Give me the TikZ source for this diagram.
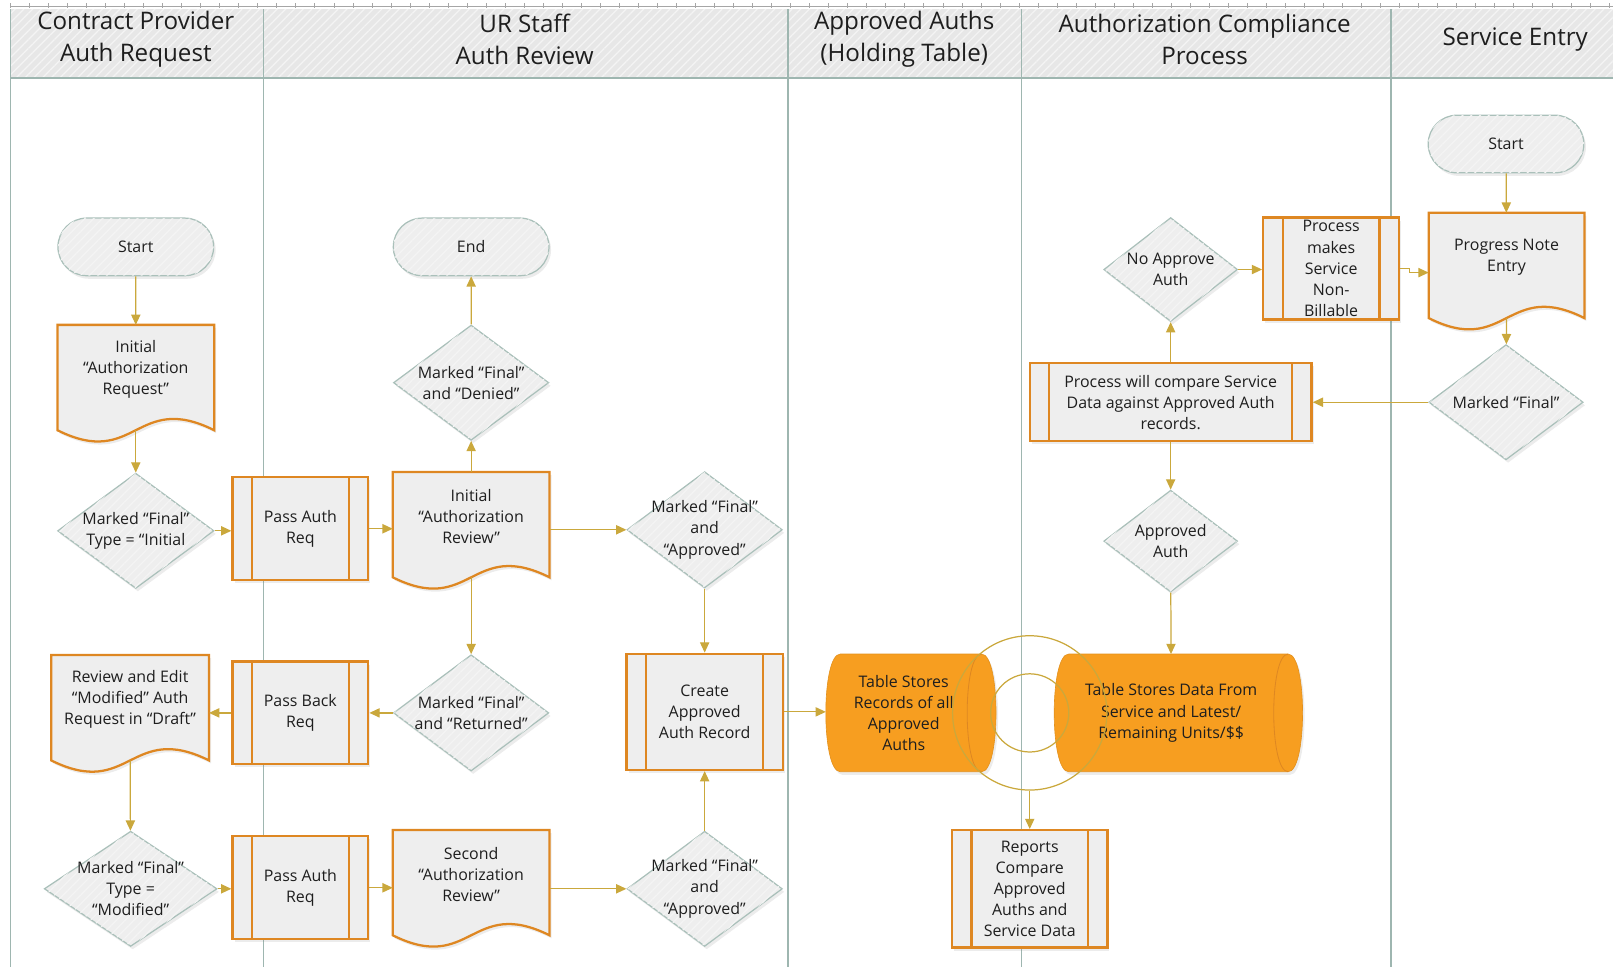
\documentclass[tikz,border=0pt]{standalone}
\usepackage{fontspec}
\setmainfont{Open Sans}
\usepackage{tikz}
\usetikzlibrary{calc,arrows.meta,shapes.geometric,shapes.misc,patterns.meta,shadows}

\definecolor{lanegreen}{RGB}{158,182,176}
\definecolor{headgray}{RGB}{231,231,231}
\definecolor{boxgray}{RGB}{238,238,238}
\definecolor{stripe}{RGB}{244,244,244}
\definecolor{diamedge}{RGB}{170,192,186}
\definecolor{procorange}{RGB}{222,135,34}
\definecolor{tankorange}{RGB}{247,158,32}
\definecolor{flowgold}{RGB}{202,168,60}
\definecolor{inkgray}{RGB}{30,30,30}

\pgfdeclarelayer{lanes}
\pgfdeclarelayer{shapes}
\pgfsetlayers{lanes,shapes,main}

\newcommand{\bodyfont}{\fontsize{15.5}{20.5}\selectfont}
\newcommand{\headfont}{\fontsize{23.5}{31}\selectfont}

% document outline with wavy bottom, drawn under the text node
\newcommand{\docshape}[1]{%
  \filldraw[docline] (#1.north west) -- (#1.north east) -- ([yshift=-16pt]#1.south east)
    .. controls ([yshift=22pt]#1.south) and ([yshift=-54pt]#1.south) .. ([yshift=-16pt]#1.south west) -- cycle;}
% lying orange tank
\newcommand{\tankshape}[1]{%
  \filldraw[tankline] ([xshift=14pt]#1.north west) -- (#1.north east)
    .. controls +(18.7,0) and +(18.7,0) .. (#1.south east) -- ([xshift=14pt]#1.south west)
    .. controls +(-18.7,0) and +(-18.7,0) .. cycle;
  \draw[tankedge] (#1.north east) .. controls +(-18.7,0) and +(-18.7,0) .. (#1.south east);}

\tikzset{>={Triangle[length=10pt,width=9pt]}}
\tikzset{
  soft/.style={drop shadow={opacity=0.15,shadow xshift=2pt,shadow yshift=-3pt}},
  striped/.style={fill=boxgray,postaction={pattern={Lines[angle=45,distance=6pt,line width=1.2pt]},pattern color=stripe}},
  lane/.style={draw=lanegreen,line width=1.4pt},
  ruler/.style={draw=black!35,line width=0.6pt},
  headtext/.style={font=\headfont,text=inkgray,align=center,inner sep=0pt},
  term/.style={rounded rectangle,draw=diamedge,line width=1.2pt,striped,soft,minimum width=158pt,minimum height=56pt,font=\bodyfont,text=inkgray},
  dec/.style={diamond,draw=diamedge,line width=1.2pt,striped,soft,inner sep=0pt},
  dtext/.style={font=\bodyfont,text=inkgray,align=center,inner sep=0pt},
  doc/.style={rectangle,minimum width=152pt,minimum height=86pt,inner sep=0pt,font=\bodyfont,text=inkgray,align=center},
  docline/.style={draw=procorange,line width=2.2pt,fill=boxgray,soft},
  proc/.style={rectangle,draw=procorange,line width=2.2pt,fill=boxgray,soft,inner sep=0pt,font=\bodyfont,text=inkgray,align=center,
    path picture={
      \draw[procorange,line width=2.2pt] ([xshift=19pt]path picture bounding box.north west) -- ([xshift=19pt]path picture bounding box.south west);
      \draw[procorange,line width=2.2pt] ([xshift=-19pt]path picture bounding box.north east) -- ([xshift=-19pt]path picture bounding box.south east);}},
  tank/.style={rectangle,minimum height=114pt,inner sep=0pt,font=\bodyfont,text=inkgray,align=center},
  tankline/.style={fill=tankorange,draw=tankorange!92!black,line width=0.6pt,soft},
  tankedge/.style={draw=procorange,line width=0.8pt},
  ring/.style={circle,draw=flowgold,line width=1.2pt,inner sep=0pt},
  flow/.style={->,draw=flowgold,line width=1.2pt}
}

\begin{document}
\begin{tikzpicture}[x=1pt,y=-1pt]
  \useasboundingbox (0,0) rectangle (1568,940);

  \begin{pgfonlayer}{lanes}
    % ruler on top
    \draw[ruler] (10,6) -- (1568,6);
    \foreach \t in {0,...,84} \draw[ruler] (10+18.5*\t,3) -- (10+18.5*\t,8);
    % header band
    \fill[headgray,postaction={pattern={Lines[angle=45,distance=6pt,line width=1.2pt]},pattern color=stripe}] (10,9) rectangle (1568,76);
    \node[headtext] (hdprov) at (132,38) {Contract Provider\\Auth Request};
    \node[headtext] (hdur) at (510,38) {UR Staff\\Auth Review};
    \node[headtext] (hdhold) at (879,38) {Approved Auths\\(Holding Table)};
    \node[headtext] (hdcomp) at (1171,38) {Authorization Compliance\\Process};
    \node[headtext] (hdserv) at (1473,38) {Service Entry};
    % lane borders
    \foreach \x in {10,256,766,993,1352}
      \draw[lane] (\x,9) -- (\x,940);
    \draw[lane] (10,76) -- (1568,76);
  \end{pgfonlayer}

  % contract provider lane
  \node[term] (start1) at (132,240) {Start};
  \node[doc] (req) at (132,359) {Initial\\“Authorization\\Request”};
  \node[dec,minimum width=152pt,minimum height=112pt,label={[dtext,name=d1-t]center:{Marked “Final”\\Type = “Initial}}] (d1) at (132,516) {};
  \node[doc,minimum width=153pt] (review) at (126.5,680) {Review and Edit\\“Modified” Auth\\Request in “Draft”};
  \node[dec,minimum width=168pt,minimum height=112pt,label={[dtext,name=dmod-t]center:{Marked “Final”\\Type =\\“Modified”}}] (dmod) at (127,864) {};

  % UR staff lane
  \node[proc,minimum width=132pt,minimum height=100pt] (pass1) at (292,514) {Pass Auth\\Req};
  \node[proc,minimum width=132pt,minimum height=100pt] (passback) at (292,693) {Pass Back\\Req};
  \node[proc,minimum width=132pt,minimum height=100pt] (pass2) at (292,863) {Pass Auth\\Req};
  \node[term] (endn) at (458,240) {End};
  \node[dec,minimum width=151pt,minimum height=112pt,label={[dtext,name=dden-t]center:{Marked “Final”\\and “Denied”}}] (dden) at (458,372) {};
  \node[doc] (iar) at (458,502) {Initial\\“Authorization\\Review”};
  \node[dec,minimum width=151pt,minimum height=113pt,label={[dtext,name=dret-t]center:{Marked “Final”\\and “Returned”}}] (dret) at (458,693) {};
  \node[doc] (sar) at (458,850) {Second\\“Authorization\\Review”};
  \node[dec,minimum width=151pt,minimum height=113pt,label={[dtext,name=dapp1-t]center:{Marked “Final”\\and\\“Approved”}}] (dapp1) at (685,515) {};
  \node[proc,minimum width=152pt,minimum height=113pt] (create) at (685,692) {Create\\Approved\\Auth Record};
  \node[dec,minimum width=151pt,minimum height=112pt,label={[dtext,name=dapp2-t]center:{Marked “Final”\\and\\“Approved”}}] (dapp2) at (685,864) {};

  % holding table and compliance lanes
  \node[tank,minimum width=151pt] (tab1) at (878.5,693) {Table Stores\\Records of all\\Approved\\Auths};
  \node[tank,minimum width=227pt] (tab2) at (1138.5,693) {Table Stores Data From\\Service and Latest/\\Remaining Units/\$\$};
  \node[ring,minimum size=150pt] (ring) at (1001,693) {};
  \node[ring,minimum size=76pt] (hub) at (1001,693) {};
  \node[proc,minimum width=151pt,minimum height=114pt] (reports) at (1001,864) {Reports\\Compare\\Approved\\Auths and\\Service Data};
  \node[proc,minimum width=274pt,minimum height=76pt] (compare) at (1138,391) {Process will compare Service\\Data against Approved Auth\\records.};
  \node[dec,minimum width=130pt,minimum height=101pt,label={[dtext,name=noapp-t]center:{No Approve\\Auth}}] (noapp) at (1138,262) {};
  \node[proc,minimum width=132pt,minimum height=99pt] (nonbill) at (1294,261) {Process\\makes\\Service\\Non-\\Billable};
  \node[dec,minimum width=130pt,minimum height=99pt,label={[dtext,name=appauth-t]center:{Approved\\Auth}}] (appauth) at (1138,526) {};

  % service entry lane
  \node[term] (start5) at (1464,140) {Start};
  \node[doc,minimum width=151pt] (pne) at (1464.5,250) {Progress Note\\Entry};
  \node[dec,minimum width=150pt,minimum height=112pt,label={[dtext,name=mfinal-t]center:{Marked “Final”}}] (mfinal) at (1464,391) {};

  % outlines under the document and tank texts
  \begin{pgfonlayer}{shapes}
    \docshape{req}
    \docshape{review}
    \docshape{iar}
    \docshape{sar}
    \docshape{pne}
    \tankshape{tab1}
    \tankshape{tab2}
  \end{pgfonlayer}

  % connectors
  \draw[flow] (start1) -- (req);
  \draw[flow] ([yshift=-16pt]req.south) -- (d1);
  \draw[flow] (d1.east) -- (d1.east -| pass1.west);
  \draw[flow] (pass1.east) -- (pass1.east -| iar.west);
  \draw[flow] (iar) -- (dden);
  \draw[flow] (dden) -- (endn);
  \draw[flow] (dapp1.west -| iar.east) -- (dapp1.west);
  \draw[flow] ([yshift=-16pt]iar.south) -- (dret);
  \draw[flow] (dret.west) -- (dret.west -| passback.east);
  \draw[flow] (passback.west) -- (passback.west -| review.east);
  \draw[flow] ([yshift=-16pt]review.south) -- (dmod);
  \draw[flow] (dmod.east) -- (dmod.east -| pass2.west);
  \draw[flow] (pass2.east) -- (pass2.east -| sar.west);
  \draw[flow] (dapp2.west -| sar.east) -- (dapp2.west);
  \draw[flow] (dapp2) -- (create);
  \draw[flow] (dapp1) -- (create);
  \draw[flow] (create.east) -- (create.east -| tab1.west);
  \draw[flow] (ring.south) -- (reports);
  \draw[flow] (start5) -- (pne);
  \draw[flow] ([yshift=-16pt]pne.south) -- (mfinal);
  \draw[flow] (mfinal.west) -- (mfinal.west -| compare.east);
  \draw[flow] (compare) -- (noapp);
  \draw[flow] (noapp.east) -- (noapp.east -| nonbill.west);
  \draw[flow] (nonbill.east) -- ++(9,0) |- ($(nonbill.east -| pne.west)+(0,4)$);
  \draw[flow] (compare) -- (appauth);
  \draw[flow] (appauth) -- (tab2);
\end{tikzpicture}
\end{document}
